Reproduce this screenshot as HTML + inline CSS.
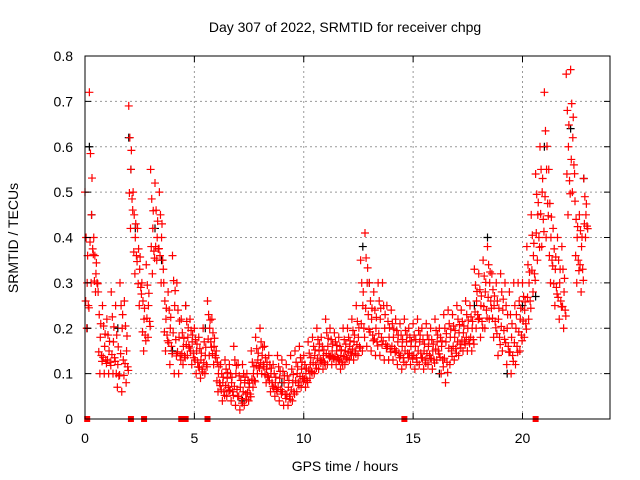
<!DOCTYPE html>
<html><head><meta charset="utf-8"><style>
body{margin:0;background:#fff;}
svg{display:block;font-family:"Liberation Sans",sans-serif;}
</style></head><body>
<svg id="chart" width="640" height="480">
<rect width="640" height="480" fill="#fff"/>
<text x="345" y="32" font-size="14" text-anchor="middle">Day 307 of 2022, SRMTID for receiver chpg</text>
<text x="345" y="471" font-size="14" text-anchor="middle">GPS time / hours</text>
<text transform="translate(18,238) rotate(-90)" font-size="14" text-anchor="middle">SRMTID / TECUs</text>
<g id="grid"></g><g id="marks"></g>
<rect x="85" y="56" width="525" height="363" fill="none" stroke="#000" stroke-width="1"/>
<g id="axes"></g>
</svg>
<script>
const xTicks=[0,5,10,15,20];
const yTicks=[0,0.1,0.2,0.3,0.4,0.5,0.6,0.7,0.8];
const yTickLabels=["0","0.1","0.2","0.3","0.4","0.5","0.6","0.7","0.8"];
const t0=0, tStep=0.2;
const redHi=[0.5,0.72,0.4,0.28,0.25,0.22,0.28,0.25,0.3,0.26,0.69,0.5,0.42,0.3,0.34,0.55,0.52,0.5,0.3,0.28,0.36,0.3,0.22,0.25,0.22,0.2,0.18,0.2,0.26,0.22,0.15,0.12,0.13,0.12,0.16,0.12,0.12,0.1,0.15,0.18,0.2,0.16,0.14,0.12,0.14,0.13,0.12,0.14,0.15,0.16,0.14,0.17,0.18,0.2,0.18,0.22,0.2,0.19,0.18,0.2,0.2,0.22,0.25,0.35,0.41,0.3,0.28,0.3,0.3,0.25,0.24,0.22,0.21,0.22,0.2,0.21,0.22,0.2,0.21,0.2,0.22,0.2,0.23,0.24,0.23,0.25,0.24,0.26,0.25,0.33,0.32,0.35,0.38,0.32,0.3,0.32,0.3,0.28,0.3,0.3,0.3,0.38,0.45,0.54,0.6,0.72,0.55,0.42,0.4,0.38,0.76,0.77,0.48,0.45,0.53];
const redMid=[0.3,0.45,0.32,0.18,0.16,0.15,0.17,0.12,0.2,0.15,0.55,0.4,0.33,0.22,0.25,0.42,0.4,0.4,0.22,0.2,0.25,0.18,0.16,0.18,0.17,0.15,0.13,0.14,0.2,0.16,0.1,0.08,0.09,0.08,0.1,0.07,0.08,0.07,0.1,0.13,0.14,0.11,0.1,0.08,0.09,0.08,0.07,0.08,0.1,0.11,0.1,0.12,0.14,0.15,0.14,0.16,0.15,0.15,0.14,0.15,0.16,0.17,0.18,0.25,0.3,0.22,0.2,0.22,0.2,0.18,0.18,0.17,0.16,0.17,0.16,0.16,0.17,0.15,0.16,0.15,0.17,0.16,0.17,0.18,0.18,0.19,0.19,0.2,0.2,0.26,0.25,0.28,0.3,0.25,0.22,0.24,0.2,0.18,0.2,0.22,0.24,0.3,0.36,0.45,0.5,0.55,0.4,0.33,0.3,0.28,0.6,0.62,0.4,0.38,0.45];
const redLo=[0.2,0.3,0.28,0.1,0.1,0.1,0.1,0.07,0.06,0.08,0.42,0.32,0.25,0.15,0.18,0.32,0.35,0.3,0.15,0.12,0.1,0.1,0.12,0.14,0.12,0.1,0.09,0.1,0.14,0.12,0.06,0.04,0.05,0.04,0.03,0.02,0.03,0.04,0.07,0.1,0.1,0.08,0.06,0.05,0.04,0.03,0.03,0.04,0.06,0.07,0.07,0.09,0.1,0.11,0.11,0.12,0.12,0.12,0.11,0.12,0.13,0.13,0.14,0.15,0.16,0.15,0.14,0.14,0.13,0.13,0.13,0.12,0.11,0.12,0.12,0.11,0.12,0.11,0.12,0.11,0.13,0.1,0.08,0.12,0.13,0.14,0.15,0.15,0.15,0.2,0.18,0.2,0.22,0.18,0.14,0.15,0.12,0.1,0.12,0.15,0.18,0.22,0.28,0.35,0.38,0.4,0.3,0.25,0.22,0.2,0.45,0.5,0.3,0.28,0.4];
const blackT=[0.1,0.2,0.3,1.5,2.0,2.1,2.3,3.2,3.5,4.0,4.6,5.5,7.2,9.0,12.7,13.0,16.2,17.8,18.4,19.3,20.0,20.6,21.0,22.2,22.8];
const blackV=[0.2,0.6,0.45,0.2,0.62,0.55,0.42,0.42,0.35,0.15,0.25,0.2,0.04,0.08,0.38,0.3,0.1,0.25,0.4,0.1,0.25,0.27,0.6,0.64,0.53];
const zeroT=[0.1,2.1,2.7,4.4,4.6,5.6,14.6,20.6];

const NS="http://www.w3.org/2000/svg";
const X0=85,X1=610,Y0=419,Y1=56,XMAX=24,YMAX=0.8;
const xs=t=>X0+(X1-X0)*t/XMAX;
const ys=v=>Y0-(Y0-Y1)*v/YMAX;
const grid=document.getElementById('grid'),axes=document.getElementById('axes'),marks=document.getElementById('marks');
function mk(tag,attrs,parent){const e=document.createElementNS(NS,tag);for(const k in attrs)e.setAttribute(k,attrs[k]);parent.appendChild(e);return e;}
xTicks.forEach(t=>{
  const x=xs(t);
  if(t>0){const g=mk('line',{x1:x,x2:x,y1:Y1,y2:Y0,stroke:'#999','stroke-dasharray':'2,3'},grid);
  
  }
  mk('line',{x1:x,x2:x,y1:Y0,y2:Y0-6,stroke:'#000'},axes);
  mk('line',{x1:x,x2:x,y1:Y1,y2:Y1+6,stroke:'#000'},axes);
  const l=mk('text',{x:x,y:Y0+24,'font-size':14,'text-anchor':'middle'},axes);l.textContent=t;
  
  
});
yTicks.forEach((v,i)=>{
  const y=ys(v);
  if(i>0&&i<yTicks.length-1){const g=mk('line',{x1:X0,x2:X1,y1:y,y2:y,stroke:'#999','stroke-dasharray':'2,3'},grid);
  
  }
  mk('line',{x1:X0,x2:X0+6,y1:y,y2:y,stroke:'#000'},axes);
  mk('line',{x1:X1,x2:X1-6,y1:y,y2:y,stroke:'#000'},axes);
  const l=mk('text',{x:X0-12,y:y+5,'font-size':14,'text-anchor':'end'},axes);l.textContent=yTickLabels[i];
  
  
});
function plus(t,v,color,name){
  const x=xs(t),y=ys(v);
  const p=mk('path',{d:`M${x-4},${y}h8M${x},${y-4}v8`,stroke:color,'stroke-width':1.2,fill:'none'},marks);
  
  
}
blackT.forEach((t,i)=>plus(t,blackV[i],'#000','black-point'));
redHi.forEach((hi,i)=>{
  const t=t0+i*tStep,m=redMid[i],lo=redLo[i];
  plus(t,hi,'#f00','red-point');
  plus(t+0.05,(hi+m)/2,'#f00','red-point');
  plus(t+0.1,m,'#f00','red-point');
  plus(t+0.15,(m+lo)/2,'#f00','red-point');
  plus(t+0.08,lo,'#f00','red-point');
  plus(t+0.12,(hi*0.3+m*0.7),'#f00','red-point');
  plus(t+0.03,(m*0.6+lo*0.4),'#f00','red-point');
  plus(t+0.18,(hi*0.15+lo*0.85),'#f00','red-point');
});
zeroT.forEach(t=>{
  const r=mk('rect',{x:xs(t)-3,y:Y0-3,width:6,height:6,fill:'#f00'},marks);
  
  
});
</script>
</body></html>
